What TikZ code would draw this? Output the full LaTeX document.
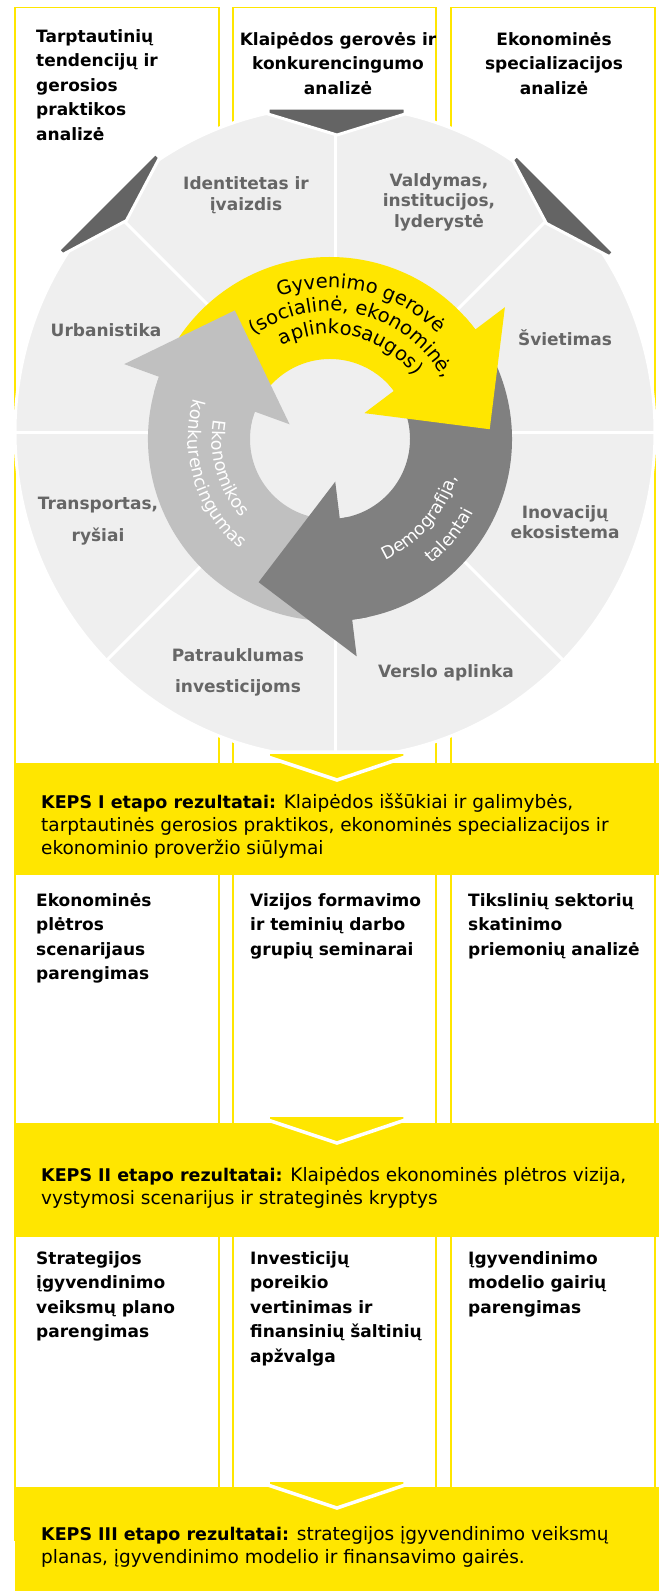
\documentclass[tikz,border=0pt]{standalone}
\usepackage{fontspec}
\setmainfont{DejaVu Sans}
\usetikzlibrary{decorations.text}
\definecolor{eyyellow}{HTML}{FFE600}
\definecolor{discgray}{HTML}{EFEFEF}
\definecolor{chevgray}{HTML}{646464}
\definecolor{darkarrow}{HTML}{808080}
\definecolor{lightarrow}{HTML}{C0C0C0}
\definecolor{labelgray}{HTML}{666666}
\newcommand\hdfont{\fontsize{17}{24.5}\selectfont\bfseries}
\newcommand\segfont{\fontsize{17}{20.5}\selectfont\bfseries}
\newcommand\bandfont{\fontsize{18.5}{23}\selectfont}
\newcommand\bandbold{\fontsize{17.5}{23}\selectfont\bfseries}
\newcommand\ringfont{\fontsize{19.5}{19.5}\selectfont}
\newcommand\ringfontw{\fontsize{17.5}{17.5}\selectfont}
\tikzset{
	colbox/.style={draw=eyyellow,line width=1.5pt},
	hdtext/.style={inner sep=0pt,font=\hdfont},
	segtext/.style={inner sep=0pt,text=labelgray,font=\segfont,align=center},
	segline/.style={draw=white,line width=3pt},
	chevdark/.style={fill=chevgray,draw=white,line width=3pt},
	chevyellow/.style={fill=eyyellow,draw=white,line width=3.5pt},
	bandtext/.style={inner sep=0pt,font=\bandfont,align=left,anchor=north west},
}
\begin{document}
\begin{tikzpicture}[x=1pt,y=1pt]
	\useasboundingbox (0,0) rectangle (659,-1591);
	% three columns
	\draw[colbox] (15,-7.5) rectangle (219,-1540);
	\draw[colbox] (233,-7.5) rectangle (436,-1540);
	\draw[colbox] (451,-7.5) rectangle (655,-1540);
	\node[hdtext,anchor=north west,align=left] (hdA) at (36,-29) {Tarptautinių\\tendencijų ir\\gerosios\\praktikos\\analizė};
	\node[hdtext,anchor=north,align=center] (hdB) at (338,-32) {Klaipėdos gerovės ir\\konkurencingumo\\analizė};
	\node[hdtext,anchor=north,align=center] (hdC) at (554,-32) {Ekonominės\\specializacijos\\analizė};
	% disc with eight fields
	\fill[discgray] (335,-432) ellipse[x radius=320,y radius=326];
	\begin{scope}
		\clip (335,-432) ellipse[x radius=320,y radius=326];
		\foreach \a in {0,45,...,315}
		\draw[segline] (335,-432) ++(\a:120) -- ++(\a:300);
	\end{scope}
	\draw[white,line width=3pt] (335,-432) ellipse[x radius=320,y radius=326];
	\draw[chevdark] (337,-135) ++(-69,27) -- ++(137,0) -- ++(0,-6) -- ++(-68,-21) -- ++(-69,21) -- cycle;
	\draw[chevdark,rotate around={45:(335,-432)}] (337,-135) ++(-69,27) -- ++(137,0) -- ++(0,-6) -- ++(-68,-21) -- ++(-69,21) -- cycle;
	\draw[chevdark,rotate around={-45:(335,-432)}] (337,-135) ++(-69,27) -- ++(137,0) -- ++(0,-6) -- ++(-68,-21) -- ++(-69,21) -- cycle;
	\node[segtext] (segIdent) at (246,-195) {Identitetas ir\\įvaizdis};
	\node[segtext] (segVald) at (439,-202) {Valdymas,\\institucijos,\\lyderystė};
	\node[segtext] (segSviet) at (565,-338) {Švietimas};
	\node[segtext] (segInov) at (565,-522) {Inovacijų\\ekosistema};
	\node[segtext] (segVersl) at (446,-673) {Verslo aplinka};
	\node[segtext,font={\fontsize{17}{31}\selectfont\bfseries}] (segPatr) at (238,-672) {Patrauklumas\\investicijoms};
	\node[segtext,font={\fontsize{17}{32}\selectfont\bfseries}] (segTrans) at (98,-521) {Transportas,\\ryšiai};
	\node[segtext] (segUrb) at (106,-330) {Urbanistika};
	% cycle of three arrows
	\begin{scope}[shift={(330,-439)}]
		\fill[lightarrow] (160:182) arc[start angle=160,end angle=277,radius=182] -- (277:80) arc[start angle=277,end angle=160,radius=80] -- cycle;
		\fill[eyyellow] (37:182) arc[start angle=37,end angle=160,radius=182] -- (160:80) arc[start angle=160,end angle=37,radius=80] -- cycle;
		\fill[darkarrow] (-83:182) arc[start angle=-83,end angle=37,radius=182] -- (37:80) arc[start angle=37,end angle=-83,radius=80] -- cycle;
		% heads, each with a short piece of its own body
		\foreach \b/\c in {160/lightarrow,37/eyyellow,-83/darkarrow}
		\fill[\c] ({\b+5}:182) arc[start angle=\b+5,end angle=\b,radius=182] -- (\b:219) -- ({\b-33.5}:160)
		-- (\b:43) -- (\b:80) arc[start angle=\b,end angle=\b+5,radius=80] -- cycle;
		% texts on the arrows
		\path[decorate,decoration={text along path,text={|\ringfont|Gyvenimo gerovė},text align=center}]
		(137:151) arc[start angle=137,end angle=17,radius=151];
		\path[decorate,decoration={text along path,text={|\ringfont|(socialinė, ekonominė,},text align=center}]
		(137:128) arc[start angle=137,end angle=17,radius=128];
		\path[decorate,decoration={text along path,text={|\ringfont|aplinkosaugos)},text align=center}]
		(137:105) arc[start angle=137,end angle=17,radius=105];
		\path[decorate,decoration={text along path,text={|\ringfontw|Ekonomikos},text color=white,text align=center}]
		(136:118) arc[start angle=136,end angle=256,radius=118];
		\path[decorate,decoration={text along path,text={|\ringfontw|konkurencingumas},text color=white,text align=center}]
		(137:142) arc[start angle=137,end angle=257,radius=142];
		\path[decorate,decoration={text along path,text={|\ringfontw|Demografija,},text color=white,text align=center}]
		(-101:133) arc[start angle=-101,end angle=19,radius=133];
		\path[decorate,decoration={text along path,text={|\ringfontw|talentai},text color=white,text align=center}]
		(-99:161) arc[start angle=-99,end angle=21,radius=161];
	\end{scope}
	% results of the stages
	\fill[eyyellow] (15,-763) rectangle (659,-875);
	\fill[eyyellow] (15,-1123) rectangle (659,-1237);
	\fill[eyyellow] (15,-1487) rectangle (659,-1591);
	\draw[chevyellow] (337,-780) ++(-69,28) -- ++(137,0) -- ++(0,-5) -- ++(-68,-23) -- ++(-69,23) -- cycle;
	\draw[chevyellow] (337,-1143) ++(-69,28) -- ++(137,0) -- ++(0,-5) -- ++(-68,-23) -- ++(-69,23) -- cycle;
	\draw[chevyellow] (337,-1508) ++(-69,28) -- ++(137,0) -- ++(0,-5) -- ++(-68,-23) -- ++(-69,23) -- cycle;
	\node[bandtext] (bandA) at (41,-793) {{\bandbold KEPS I etapo rezultatai:} Klaipėdos iššūkiai ir galimybės,\\tarptautinės gerosios praktikos, ekonominės specializacijos ir\\ekonominio proveržio siūlymai};
	\node[bandtext] (bandB) at (41,-1167) {{\bandbold KEPS II etapo rezultatai:} Klaipėdos ekonominės plėtros vizija,\\vystymosi scenarijus ir strateginės kryptys};
	\node[bandtext] (bandC) at (41,-1526) {{\bandbold KEPS III etapo rezultatai:} strategijos įgyvendinimo veiksmų\\planas, įgyvendinimo modelio ir finansavimo gairės.};
	% tasks in the columns
	\node[hdtext,anchor=north west,align=left] (taskA1) at (36,-893) {Ekonominės\\plėtros\\scenarijaus\\parengimas};
	\node[hdtext,anchor=north west,align=left] (taskB1) at (250,-893) {Vizijos formavimo\\ir teminių darbo\\grupių seminarai};
	\node[hdtext,anchor=north west,align=left] (taskC1) at (468,-893) {Tikslinių sektorių\\skatinimo\\priemonių analizė};
	\node[hdtext,anchor=north west,align=left] (taskA2) at (36,-1251) {Strategijos\\įgyvendinimo\\veiksmų plano\\parengimas};
	\node[hdtext,anchor=north west,align=left] (taskB2) at (250,-1251) {Investicijų\\poreikio\\vertinimas ir\\finansinių šaltinių\\apžvalga};
	\node[hdtext,anchor=north west,align=left] (taskC2) at (468,-1251) {Įgyvendinimo\\modelio gairių\\parengimas};
\end{tikzpicture}
\end{document}
